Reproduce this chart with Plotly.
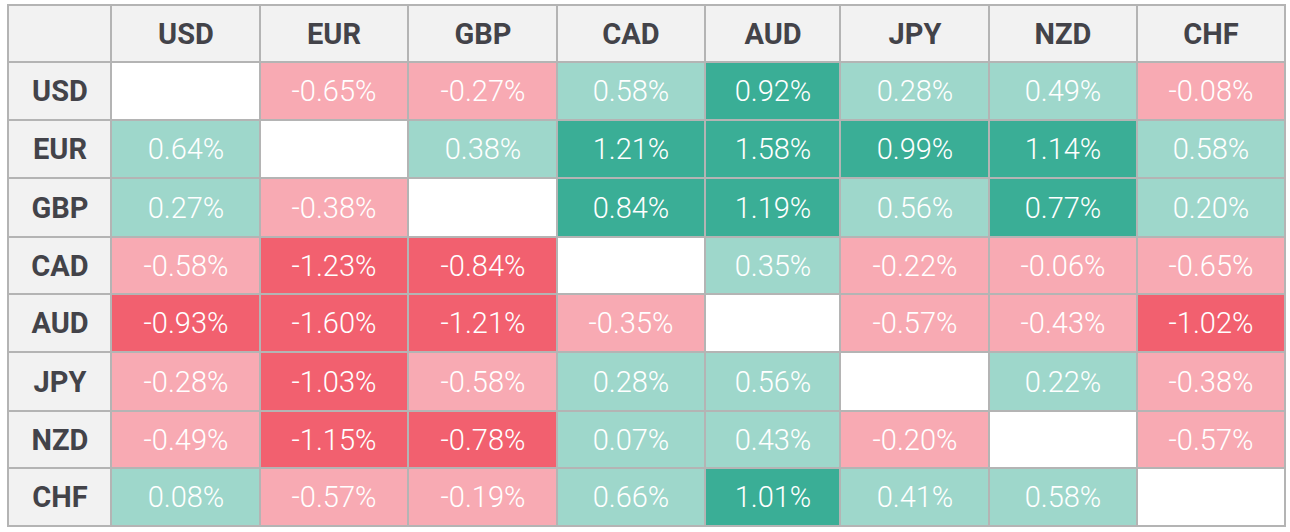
import plotly.graph_objects as go

currencies = ["USD", "EUR", "GBP", "CAD", "AUD", "JPY", "NZD", "CHF"]

usd = [None, -0.65, -0.27, 0.58, 0.92, 0.28, 0.49, -0.08]
eur = [0.64, None, 0.38, 1.21, 1.58, 0.99, 1.14, 0.58]
gbp = [0.27, -0.38, None, 0.84, 1.19, 0.56, 0.77, 0.20]
cad = [-0.58, -1.23, -0.84, None, 0.35, -0.22, -0.06, -0.65]
aud = [-0.93, -1.60, -1.21, -0.35, None, -0.57, -0.43, -1.02]
jpy = [-0.28, -1.03, -0.58, 0.28, 0.56, None, 0.22, -0.38]
nzd = [-0.49, -1.15, -0.78, 0.07, 0.43, -0.20, None, -0.57]
chf = [0.08, -0.57, -0.19, 0.66, 1.01, 0.41, 0.58, None]

rows = [usd, eur, gbp, cad, aud, jpy, nzd, chf]

# layout (pixel sizes of the table grid)
col_widths = [103, 149, 148, 149, 148, 135, 149, 148, 148]
row_heights = [57, 58, 58, 59, 57, 58, 59, 57, 58]

HEADER_BG = "#f2f2f2"
TEXT_DARK = "#434349"
LINE = "#b4b4b4"
PALETTE = ["#f2f2f2", "#ffffff", "#9ed7cb", "#3aae96", "#f8aab3", "#f2606f"]


def category(v):
    if v is None:
        return 1
    if v >= 0.7:
        return 3
    if v >= 0:
        return 2
    if v <= -0.7:
        return 5
    return 4


def edges(sizes):
    out = [0]
    for s in sizes:
        out.append(out[-1] + s)
    return out


xe = edges(col_widths)
ye = edges(row_heights)
n = len(currencies)

# discrete colorscale
cs = []
k = len(PALETTE)
for i, c in enumerate(PALETTE):
    cs.append([i / k, c])
    cs.append([(i + 1) / k, c])

# value region
z_val = [[None] * (n + 1)]
t_val = [[""] * (n + 1)]
for i in range(n):
    z_val.append([None] + [category(v) for v in rows[i]])
    t_val.append([""] + ["" if v is None else f"{v:.2f}%" for v in rows[i]])

# header region
z_hdr = [[0] * (n + 1)]
t_hdr = [[""] + [f"<b>{c}</b>" for c in currencies]]
for i in range(n):
    z_hdr.append([0] + [None] * n)
    t_hdr.append([f"<b>{currencies[i]}</b>"] + [""] * n)

common = dict(
    x=xe,
    y=ye,
    colorscale=cs,
    zmin=-0.5,
    zmax=len(PALETTE) - 0.5,
    showscale=False,
    xgap=2,
    ygap=2,
    hoverinfo="skip",
    texttemplate="%{text}",
)

fig = go.Figure()
fig.add_trace(
    go.Heatmap(
        z=z_hdr,
        text=t_hdr,
        textfont=dict(family="Roboto", size=29, color=TEXT_DARK),
        **common,
    )
)
fig.add_trace(
    go.Heatmap(
        z=z_val,
        text=t_val,
        textfont=dict(family="Roboto", size=29, color="#ffffff", weight=300),
        **common,
    )
)

W, H = 1290, 532
fig.update_layout(
    width=W,
    height=H,
    margin=dict(l=7, r=4, t=4, b=5),
    paper_bgcolor="#ffffff",
    plot_bgcolor=LINE,
    xaxis=dict(range=[-1, xe[-1] + 1], visible=False, fixedrange=True),
    yaxis=dict(range=[ye[-1] + 1, -1], visible=False, fixedrange=True),
)

post = "document.body.style.margin = '0';"
fig.write_html("out.html", post_script=post, config={"displayModeBar": False})
